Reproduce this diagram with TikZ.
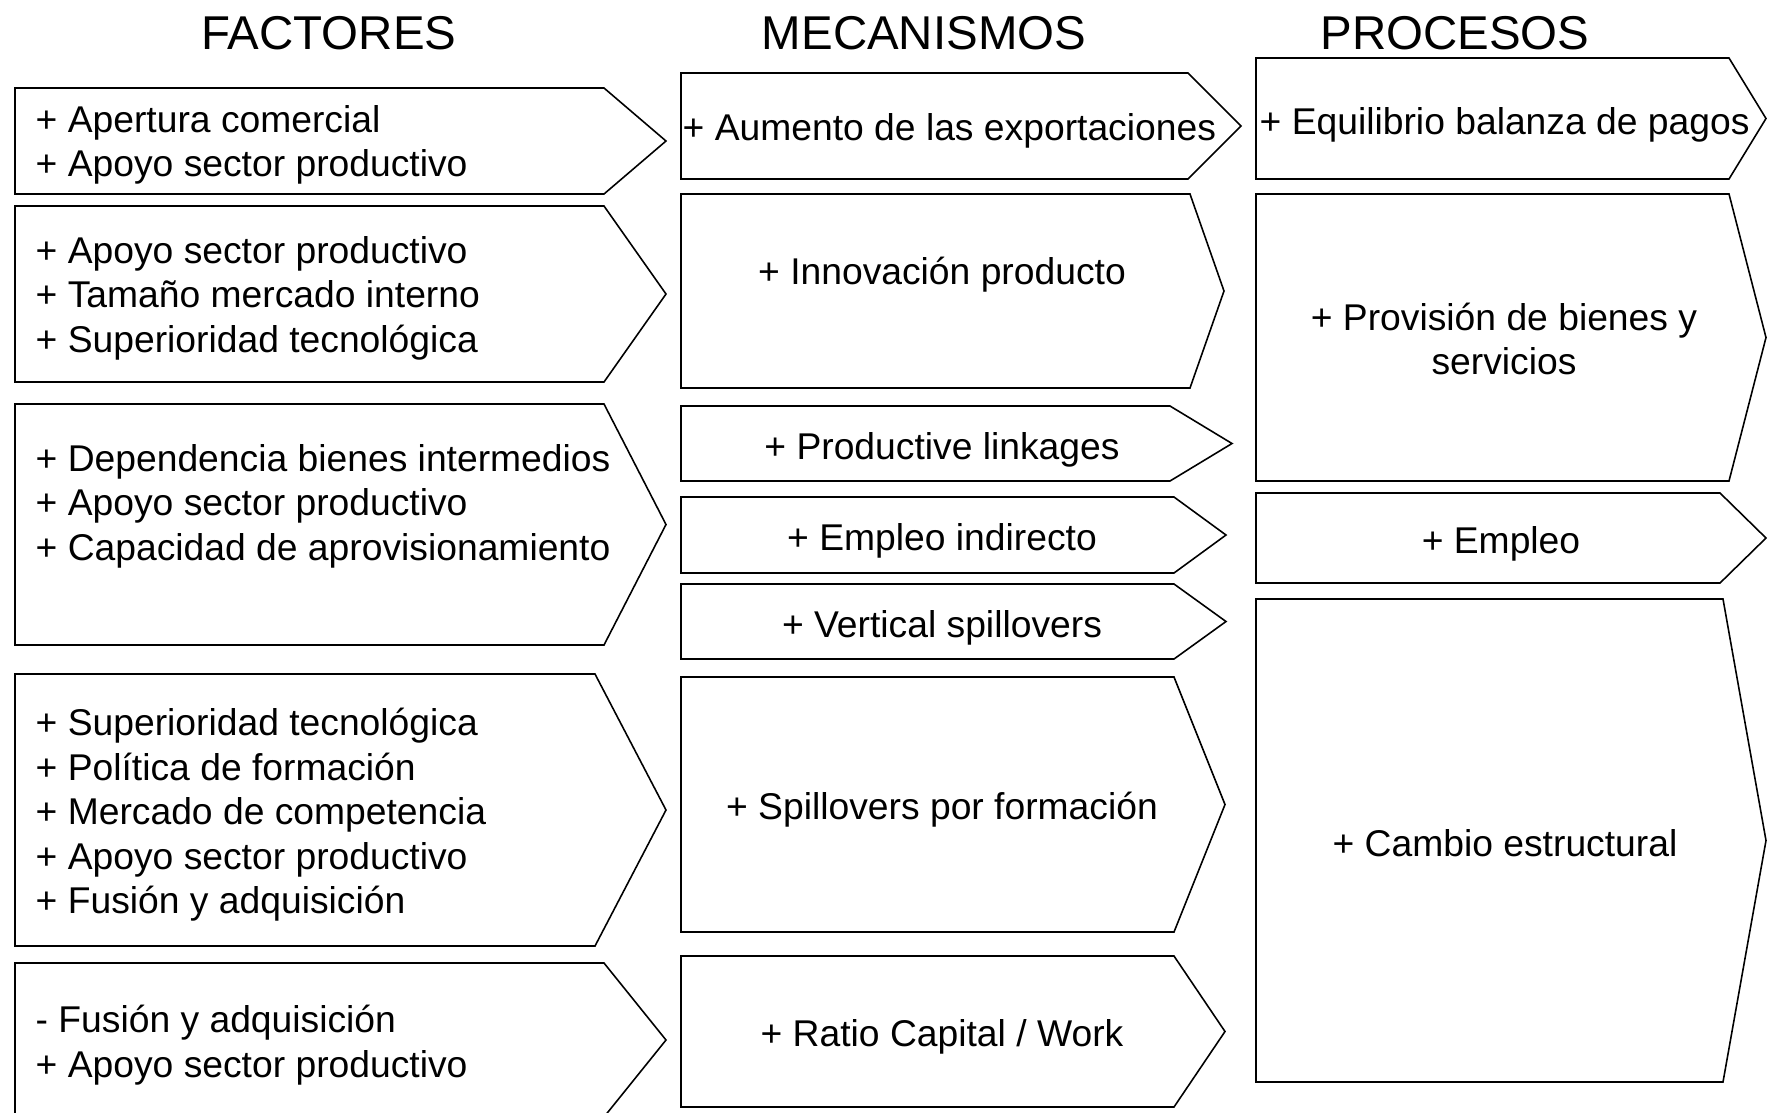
\documentclass[tikz,border=0pt]{standalone}
\usepackage{fontspec}
\setmainfont{Liberation Sans}
\usetikzlibrary{scopes}
\tikzset{
  boxline/.style={draw=black, line width=0.45pt, line join=miter},
  header/.style={font=\fontsize{13.5}{16}\selectfont, inner sep=0pt},
  itemtext/.style={font=\fontsize{10.6}{12.65}\selectfont, inner sep=0pt},
}

\begin{document}
\begin{tikzpicture}[x=0.1mm, y=-0.1mm]
    \useasboundingbox (0,0) rectangle (1767,1112);
    \clip (0,0) rectangle (1767,1112);
    % column headers
    {[every node/.style={header}]
    \node (hFac) at (329,33) {FACTORES};
    \node (hMec) at (924,33) {MECANISMOS};
    \node (hPro) at (1455,33) {PROCESOS};
    }
    % factores
    {[every node/.style={itemtext, anchor=west, align=left}]
    \node (f1) at (35,145) {+ Apertura comercial\\+ Apoyo sector productivo};
    \node (f2) at (35,298) {+ Apoyo sector productivo\\+ Tamaño mercado interno\\+ Superioridad tecnológica};
    \node (f3) at (35,506) {+ Dependencia bienes intermedios\\+ Apoyo sector productivo\\+ Capacidad de aprovisionamiento};
    \node (f4) at (35,815) {+ Superioridad tecnológica\\+ Política de formación\\+ Mercado de competencia\\+ Apoyo sector productivo\\+ Fusión y adquisición};
    \node (f5) at (35,1045) {- Fusión y adquisición\\+ Apoyo sector productivo};
    }
    % mecanismos
    {[every node/.style={itemtext, anchor=base}]
    \node[anchor=base west] (m1) at (682,140) {+ Aumento de las exportaciones};
    \node (m2) at (942,284) {+ Innovación producto};
    \node (m3) at (942,459) {+ Productive linkages};
    \node (m4) at (942,550) {+ Empleo indirecto};
    \node (m5) at (942,637) {+ Vertical spillovers};
    \node (m6) at (942,819) {+ Spillovers por formación};
    \node (m7) at (942,1046) {+ Ratio Capital / Work};
    }
    % procesos
    {[every node/.style={itemtext, anchor=base}]
    \node[anchor=base west] (p1) at (1259,134) {+ Equilibrio balanza de pagos};
    \node[anchor=center, align=center] (p2) at (1504,339) {+ Provisión de bienes y\\servicios};
    \node (p3) at (1501,553) {+ Empleo};
    \node (p4) at (1505,856) {+ Cambio estructural};
    }
    % arrow boxes: top/bottom/shoulder(/tip)
    \foreach \ya/\yb/\xs in {88/194/604, 206/382/604, 404/645/604, 674/946/595, 963/1117/604}
      \draw[boxline] (15,\ya) -- (\xs,\ya) -- (666,{(\ya+\yb)/2}) -- (\xs,\yb) -- (15,\yb) -- cycle;
    \foreach \ya/\yb/\xs/\xt in {73/179/1188/1241, 194/388/1190/1224, 406/481/1170/1232, 497/573/1174/1226,
                                 584/659/1174/1226, 677/932/1174/1225, 956/1107/1174/1225}
      \draw[boxline] (681,\ya) -- (\xs,\ya) -- (\xt,{(\ya+\yb)/2}) -- (\xs,\yb) -- (681,\yb) -- cycle;
    \foreach \ya/\yb/\xs in {58/179/1729, 194/481/1729, 493/583/1720, 599/1082/1723}
      \draw[boxline] (1256,\ya) -- (\xs,\ya) -- (1766,{(\ya+\yb)/2}) -- (\xs,\yb) -- (1256,\yb) -- cycle;
\end{tikzpicture}
\end{document}
